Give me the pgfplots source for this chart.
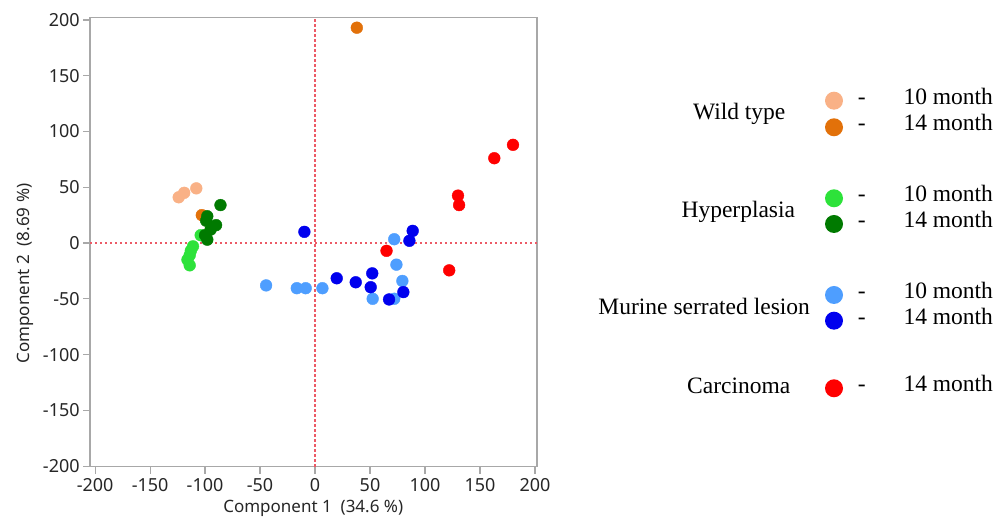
\documentclass[border=0pt]{standalone}
\usepackage{fontspec}
\setmainfont{Liberation Serif}
\newfontfamily\axfont{Noto Sans}
\usepackage{pgfplots}
\pgfplotsset{compat=1.18}
\definecolor{wtten}{HTML}{F9B186}
\definecolor{wtfourteen}{HTML}{E2710A}
\definecolor{hyten}{HTML}{2DE23A}
\definecolor{hyfourteen}{HTML}{007A00}
\definecolor{muten}{HTML}{4E9EFF}
\definecolor{mufourteen}{HTML}{0000EE}
\definecolor{carc}{HTML}{FF0000}
\definecolor{axgray}{HTML}{A8A8A8}
\definecolor{refred}{HTML}{EC5A66}
\pgfplotsset{pt/.style={only marks, mark=*, mark size=5.9bp, color=#1, mark options={fill=#1, draw=#1}}}
\begin{document}
\begin{tikzpicture}[x=1bp,y=1bp]
\useasboundingbox (0,0) rectangle (996,518);
\begin{axis}[
  at={(82,46)}, anchor=south west,
  scale only axis, width=447bp, height=449bp,
  xmin=-204.5, xmax=202, ymin=-200.5, ymax=202,
  xtick={-200,-150,...,200}, ytick={-200,-150,...,200},
  tick pos=left, tick align=outside, major tick length=7bp,
  axis line style={draw=axgray, line width=1.4bp},
  every tick/.style={draw=axgray, line width=1.2bp},
  tick label style={font=\axfont\fontsize{18bp}{21bp}\selectfont, text=black!85},
  /pgf/number format/assume math mode=true,
  xticklabel style={yshift=-1bp},
  xlabel={Component 1\ \ (34.6 \%)},
  ylabel={Component 2\ \ (8.69 \%)},
  label style={font=\axfont\fontsize{17bp}{20bp}\selectfont, text=black!85},
  xlabel style={at={(axis description cs:0.499,0)}, anchor=center, yshift=-42bp},
  ylabel style={at={(axis description cs:-0.145,0.43)}, anchor=center},
]
\addplot[refred, no marks, line width=2.4bp, dash pattern=on 2.2bp off 2.8bp, forget plot] coordinates {(-204.5,0) (202,0)};
\addplot[refred, no marks, line width=2.4bp, dash pattern=on 2.2bp off 2.8bp, forget plot] coordinates {(0,-200.5) (0,202)};
% Wild type 10 month
\addplot[pt=wtten] coordinates {(-124,41) (-119,45) (-108,49)};
% Wild type 14 month
\addplot[pt=wtfourteen] coordinates {(-103,25) (38,193)};
% Hyperplasia 10 month
\addplot[pt=hyten] coordinates {(-104,7) (-111,-3) (-113,-7) (-114,-11) (-116,-15) (-114,-20)};
% Hyperplasia 14 month
\addplot[pt=hyfourteen] coordinates {(-86,34) (-98,24) (-99,20) (-90,16) (-95,12) (-100,7) (-98,3)};
% Murine serrated lesion 10 month
\addplot[pt=muten] coordinates {(-44.5,-38) (-16.6,-40.5) (-8.5,-40.5) (6.7,-40.5) (52.4,-50) (72,-50) (79.4,-34) (74,-19.4) (72,3.4)};
% Murine serrated lesion 14 month
\addplot[pt=mufourteen] coordinates {(-9.7,10) (19.7,-31.6) (37,-35.2) (50.6,-39.6) (52,-27.2) (67.3,-50.6) (80.3,-44) (85.8,2) (88.8,10.9)};
% Carcinoma 14 month
\addplot[pt=carc] coordinates {(65,-7) (122,-24.5) (130,42.5) (131,34) (163,76) (180,88)};
\end{axis}
% legend
\begin{scope}[every node/.style={font=\fontsize{23.5bp}{28bp}\selectfont, inner sep=0pt}]
\node[anchor=base] at (739.2,398) {Wild type};
\node[anchor=base] at (738.3,300.7) {Hyperplasia};
\node[anchor=base] at (704.2,203) {Murine serrated lesion};
\node[anchor=base] at (738.7,124) {Carcinoma};
\node[circle, fill=wtten, minimum size=18bp] at (834,417.3) {};
\node[circle, fill=wtfourteen, minimum size=18bp] at (834,390.7) {};
\node[circle, fill=hyten, minimum size=18bp] at (834,319.7) {};
\node[circle, fill=hyfourteen, minimum size=18bp] at (834,294) {};
\node[circle, fill=muten, minimum size=18bp] at (834,223) {};
\node[circle, fill=mufourteen, minimum size=18bp] at (834,197.3) {};
\node[circle, fill=carc, minimum size=18bp] at (834,129.7) {};
\foreach \yb/\txt in {413.7/10 month, 387/14 month, 316/10 month, 290.4/14 month, 219.4/10 month, 193.7/14 month, 126/14 month}{
  \node[anchor=base] at (861.7,\yb) {-};
  \node[anchor=base west] at (903.3,\yb) {\txt};
}
\end{scope}
\end{tikzpicture}
\end{document}
